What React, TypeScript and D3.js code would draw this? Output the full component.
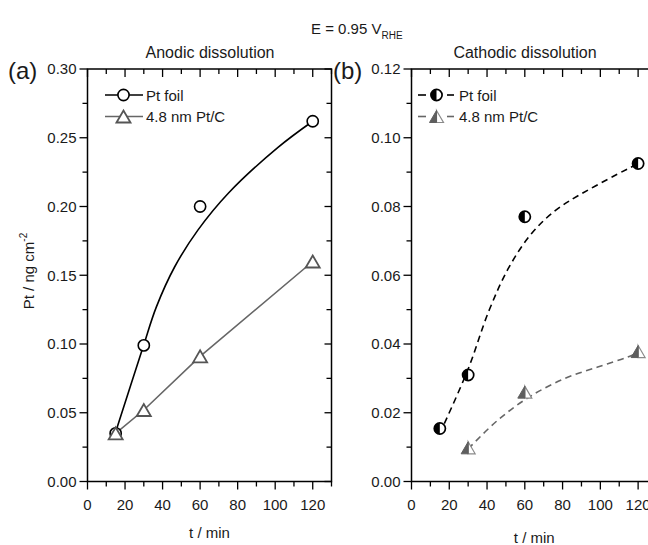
import React from "react";
import * as d3 from "d3";

// ---------- data ----------
const timesA = [15, 30, 60, 120];
const anodicFoil = [0.035, 0.099, 0.2, 0.262];
const anodicPtC = [0.035, 0.052, 0.091, 0.16];
// fitted curve (t, value)
const anodicFoilFitT = [15, 29.6, 36.7, 46.4, 58.9, 74.9, 101.5, 120];
const anodicFoilFitV = [0.036, 0.0978, 0.127, 0.156, 0.183, 0.2095, 0.243, 0.262];

const timesFoilB = [15, 30, 60, 120];
const cathodicFoil = [0.0154, 0.031, 0.077, 0.0925];
const timesPtCB = [30, 60, 120];
const cathodicPtC = [0.0098, 0.026, 0.0378];
const cathodicFoilFitT = [15, 29.7, 41.1, 51.5, 63.7, 78.6, 120];
const cathodicFoilFitV = [0.014, 0.0323, 0.0498, 0.0622, 0.0722, 0.0798, 0.0925];
const cathodicPtCFitT = [30, 45.6, 62.4, 80.9, 98.6, 114.5, 120];
const cathodicPtCFitV = [0.0095, 0.0178, 0.0246, 0.0299, 0.0333, 0.0362, 0.0375];

const xTicks = [0, 20, 40, 60, 80, 100, 120];
const yTicksA = [0, 0.05, 0.1, 0.15, 0.2, 0.25, 0.3];
const yTicksB = [0, 0.02, 0.04, 0.06, 0.08, 0.1, 0.12];
const legendLabels = ["Pt foil", "4.8 nm Pt/C"];

const FONT = "Liberation Sans, Arial, Helvetica, sans-serif";
const GRAY = "#666666";

type Scale = d3.ScaleLinear<number, number>;

function Frame({ x, y, yTicks, yMinorStep, yFmt, xLabelY }: { x: Scale; y: Scale; yTicks: number[]; yMinorStep: number; yFmt: (v: number) => string; xLabelY: number }) {
  const [x0, x1] = x.range();
  const [y0, y1] = y.range();
  const yMax = y.domain()[1];
  const yMinor = d3.range(0, yMax + 1e-9, yMinorStep);
  const xMinor = d3.range(0, 130 + 1e-9, 10);
  return (
    <g>
      <rect x={x0} y={y1} width={x1 - x0} height={y0 - y1} fill="none" stroke="#000" strokeWidth={1.5} />
      {yMinor.map((v, i) => {
        const major = yTicks.some((t) => Math.abs(t - v) < 1e-9);
        return <line key={"l" + i} x1={x0} x2={x0 - (major ? 8 : 5)} y1={y(v)} y2={y(v)} stroke="#000" strokeWidth={1.3} />;
      })}
      {yMinor.map((v, i) => {
        const major = yTicks.some((t) => Math.abs(t - v) < 1e-9);
        return <line key={"r" + i} x1={x1} x2={x1 - (major ? 7 : 5)} y1={y(v)} y2={y(v)} stroke="#000" strokeWidth={1.3} />;
      })}
      {xMinor.map((v, i) => {
        const major = v % 20 === 0;
        return <line key={"b" + i} x1={x(v)} x2={x(v)} y1={y0} y2={y0 + (major ? 8 : 5)} stroke="#000" strokeWidth={1.3} />;
      })}
      {xMinor.map((v, i) => {
        const major = v % 20 === 0;
        return <line key={"t" + i} x1={x(v)} x2={x(v)} y1={y1} y2={y1 + (major ? 8 : 5)} stroke="#000" strokeWidth={1.3} />;
      })}
      {yTicks.map((v, i) => (
        <text key={"yl" + i} x={x0 - 11} y={y(v)} dy="0.36em" textAnchor="end" fontSize={15} fontFamily={FONT} fill="#1a1a1a">
          {yFmt(v)}
        </text>
      ))}
      {xTicks.map((v, i) => (
        <text key={"xl" + i} x={x(v)} y={y0 + 28} textAnchor="middle" fontSize={15} fontFamily={FONT} fill="#1a1a1a">
          {v}
        </text>
      ))}
      <text x={(x0 + x(130)) / 2} y={xLabelY} textAnchor="middle" fontSize={15} fontFamily={FONT} fill="#1a1a1a">
        t / min
      </text>
    </g>
  );
}

function OpenCircle({ cx, cy }: { cx: number; cy: number }) {
  return <circle cx={cx} cy={cy} r={5.6} fill="#fff" stroke="#000" strokeWidth={1.6} />;
}
function OpenTriangle({ cx, cy }: { cx: number; cy: number }) {
  const w = 7, h = 6;
  return <path d={`M${cx - w},${cy + h}L${cx},${cy - h}L${cx + w},${cy + h}Z`} fill="#fff" stroke="#555" strokeWidth={1.8} strokeLinejoin="miter" />;
}
function HalfCircle({ cx, cy }: { cx: number; cy: number }) {
  const r = 5.6;
  return (
    <g>
      <circle cx={cx} cy={cy} r={r} fill="#fff" />
      <path d={`M${cx},${cy - r}A${r},${r} 0 0 0 ${cx},${cy + r}Z`} fill="#000" />
      <circle cx={cx} cy={cy} r={r} fill="none" stroke="#000" strokeWidth={1.7} />
    </g>
  );
}
function HalfTriangle({ cx, cy }: { cx: number; cy: number }) {
  const w = 7, h = 6;
  return (
    <g>
      <path d={`M${cx},${cy - h}L${cx + w},${cy + h}L${cx},${cy + h}Z`} fill="#fff" stroke="#8a8a8a" strokeWidth={1.2} />
      <path d={`M${cx - w},${cy + h}L${cx},${cy - h}L${cx},${cy + h}Z`} fill="#5e5e5e" stroke="#5e5e5e" strokeWidth={1} />
    </g>
  );
}

export default function App() {
  const W = 648, H = 545;
  const xA = d3.scaleLinear().domain([0, 130]).range([87.5, 331.5]);
  const yA = d3.scaleLinear().domain([0, 0.3]).range([481.5, 69]);
  const xB = d3.scaleLinear().domain([0, 130]).range([411.5, 657]);
  const yB = d3.scaleLinear().domain([0, 0.12]).range([481.5, 69]);

  const smooth = d3.curveCatmullRom.alpha(0.5);
  const pairs = (ts: number[], vs: number[]) => ts.map((t, i) => [t, vs[i]] as [number, number]);

  const foilFitA = d3.line<[number, number]>().x((d) => xA(d[0])).y((d) => yA(d[1])).curve(smooth)(pairs(anodicFoilFitT, anodicFoilFitV)) || "";
  const ptcA = d3.line<[number, number]>().x((d) => xA(d[0])).y((d) => yA(d[1]))(pairs(timesA, anodicPtC)) || "";
  const foilFitB = d3.line<[number, number]>().x((d) => xB(d[0])).y((d) => yB(d[1])).curve(smooth)(pairs(cathodicFoilFitT, cathodicFoilFitV)) || "";
  const ptcFitB = d3.line<[number, number]>().x((d) => xB(d[0])).y((d) => yB(d[1])).curve(smooth)(pairs(cathodicPtCFitT, cathodicPtCFitV)) || "";

  const fmt2 = d3.format(".2f");

  return (
    <svg width={W} height={H} style={{ display: "block", position: "absolute", left: 0, top: 0, background: "#fff" }}>
      <rect width={W} height={H} fill="#fff" />
      {/* header */}
      <text x={311} y={34} fontSize={15} fontFamily={FONT} fill="#1a1a1a">
        E = 0.95 V
        <tspan fontSize={10} dy={5}>RHE</tspan>
      </text>
      <text x={210} y={58} textAnchor="middle" fontSize={16} fontFamily={FONT} fill="#1a1a1a">Anodic dissolution</text>
      <text x={525} y={58} textAnchor="middle" fontSize={16} fontFamily={FONT} fill="#1a1a1a">Cathodic dissolution</text>
      <text x={8} y={79} fontSize={24} fontFamily={FONT} fill="#1a1a1a">(a)</text>
      <text x={333} y={79} fontSize={24} fontFamily={FONT} fill="#1a1a1a">(b)</text>

      {/* panel a */}
      <Frame x={xA} y={yA} yTicks={yTicksA} yMinorStep={0.025} yFmt={fmt2} xLabelY={538} />
      <text transform={`translate(34,${271}) rotate(-90)`} textAnchor="middle" fontSize={15} fontFamily={FONT} fill="#1a1a1a">
        Pt / ng cm<tspan fontSize={10} dy={-7}>-2</tspan>
      </text>
      <path d={foilFitA} fill="none" stroke="#000" strokeWidth={1.6} />
      <path d={ptcA} fill="none" stroke={GRAY} strokeWidth={1.6} />
      {timesA.map((t, i) => <OpenCircle key={"ca" + i} cx={xA(t)} cy={yA(anodicFoil[i])} />)}
      {timesA.map((t, i) => <OpenTriangle key={"ta" + i} cx={xA(t)} cy={yA(anodicPtC[i])} />)}
      {/* legend a */}
      <line x1={105} x2={143} y1={95} y2={95} stroke="#000" strokeWidth={1.6} />
      <OpenCircle cx={123.5} cy={95} />
      <text x={146} y={100.5} fontSize={15} fontFamily={FONT} fill="#1a1a1a">{legendLabels[0]}</text>
      <line x1={105} x2={143} y1={116.5} y2={116.5} stroke={GRAY} strokeWidth={1.6} />
      <OpenTriangle cx={123.5} cy={116.5} />
      <text x={146} y={122} fontSize={15} fontFamily={FONT} fill="#1a1a1a">{legendLabels[1]}</text>

      {/* panel b */}
      <Frame x={xB} y={yB} yTicks={yTicksB} yMinorStep={0.01} yFmt={fmt2} xLabelY={543} />
      <path d={foilFitB} fill="none" stroke="#000" strokeWidth={1.6} strokeDasharray="6.5,4.5" />
      <path d={ptcFitB} fill="none" stroke={GRAY} strokeWidth={1.6} strokeDasharray="6.5,4.5" />
      {timesFoilB.map((t, i) => <HalfCircle key={"cb" + i} cx={xB(t)} cy={yB(cathodicFoil[i])} />)}
      {timesPtCB.map((t, i) => <HalfTriangle key={"tb" + i} cx={xB(t)} cy={yB(cathodicPtC[i])} />)}
      {/* legend b */}
      <line x1={418} x2={426} y1={95} y2={95} stroke="#000" strokeWidth={1.6} />
      <line x1={447} x2={454} y1={95} y2={95} stroke="#000" strokeWidth={1.6} />
      <HalfCircle cx={436.5} cy={95} />
      <text x={459} y={100.5} fontSize={15} fontFamily={FONT} fill="#1a1a1a">{legendLabels[0]}</text>
      <line x1={418} x2={426} y1={116.5} y2={116.5} stroke={GRAY} strokeWidth={1.6} />
      <line x1={447} x2={454} y1={116.5} y2={116.5} stroke={GRAY} strokeWidth={1.6} />
      <HalfTriangle cx={436.5} cy={116.5} />
      <text x={459} y={122} fontSize={15} fontFamily={FONT} fill="#1a1a1a">{legendLabels[1]}</text>
    </svg>
  );
}
